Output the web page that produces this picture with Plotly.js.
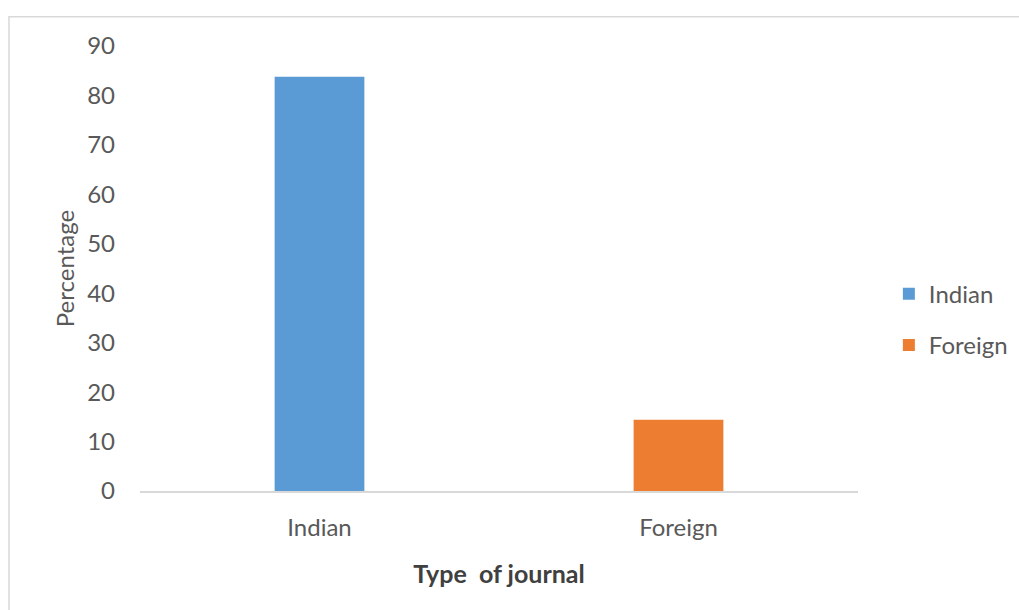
<!DOCTYPE html>
<html>
<head>
<meta charset="utf-8">
<script src="https://cdn.plot.ly/plotly-3.0.1.min.js"></script>
<style>html,body{margin:0;padding:0;background:#fff;}#chart{width:1019px;height:610px;}</style>
</head>
<body>
<div id="chart"></div>
<script>
const categories = ['Indian', 'Foreign'];
const seriesNames = ['Indian', 'Foreign'];
const indianValues = [83.8];
const foreignValues = [14.4];
const yTickValues = [0, 10, 20, 30, 40, 50, 60, 70, 80, 90];
const colors = ['#5B9BD5', '#ED7D31'];

const font = 'Lato, "Open Sans", sans-serif';

const traces = [
  {type: 'bar', name: seriesNames[0], x: [categories[0]], y: indianValues,
   marker: {color: colors[0]}, width: 0.25, legendgroup: 'a', hoverinfo: 'x+y'},
  {type: 'bar', name: seriesNames[1], x: [categories[1]], y: foreignValues,
   marker: {color: colors[1]}, width: 0.25, legendgroup: 'b', hoverinfo: 'x+y'}
];

const layout = {
  width: 1019, height: 610,
  margin: {l: 140, r: 161, t: 46, b: 119, autoexpand: false},
  paper_bgcolor: '#fff', plot_bgcolor: '#fff',
  barmode: 'overlay',
  font: {family: font, size: 24, color: '#595959'},
  xaxis: {
    type: 'category', categoryorder: 'array', categoryarray: categories,
    showline: true, linecolor: '#d9d9d9', linewidth: 2,
    ticks: '', showgrid: false, zeroline: false, automargin: false,
    ticklabelstandoff: 14,
    tickfont: {size: 24, color: '#595959'},
    title: {text: 'Type  of journal', font: {size: 25, color: '#404040', family: font, weight: 'bold'}, standoff: 26}
  },
  yaxis: {
    range: [0, 90], tickvals: yTickValues, ticktext: yTickValues.map(String),
    showline: false, showgrid: false, zeroline: false, ticks: '', automargin: false,
    ticklabelstandoff: 24,
    tickfont: {size: 24, color: '#595959'},
    title: {text: 'Percentage', font: {size: 24, color: '#595959', family: font}, standoff: 5}
  },
  legend: {
    x: 1.043, y: 0.385, xanchor: 'left', yanchor: 'middle',
    font: {size: 24, color: '#595959'},
    traceorder: 'grouped', tracegroupgap: 17,
    bgcolor: 'rgba(0,0,0,0)'
  },
  shapes: [{
    type: 'rect', xref: 'paper', yref: 'paper',
    x0: -0.1825, x1: 1.6, y0: -0.6, y1: 1.066,
    line: {color: '#d9d9d9', width: 1.5}, fillcolor: 'rgba(0,0,0,0)', layer: 'below'
  }]
};

Plotly.newPlot('chart', traces, layout, {displayModeBar: false, staticPlot: true});
</script>
</body>
</html>
